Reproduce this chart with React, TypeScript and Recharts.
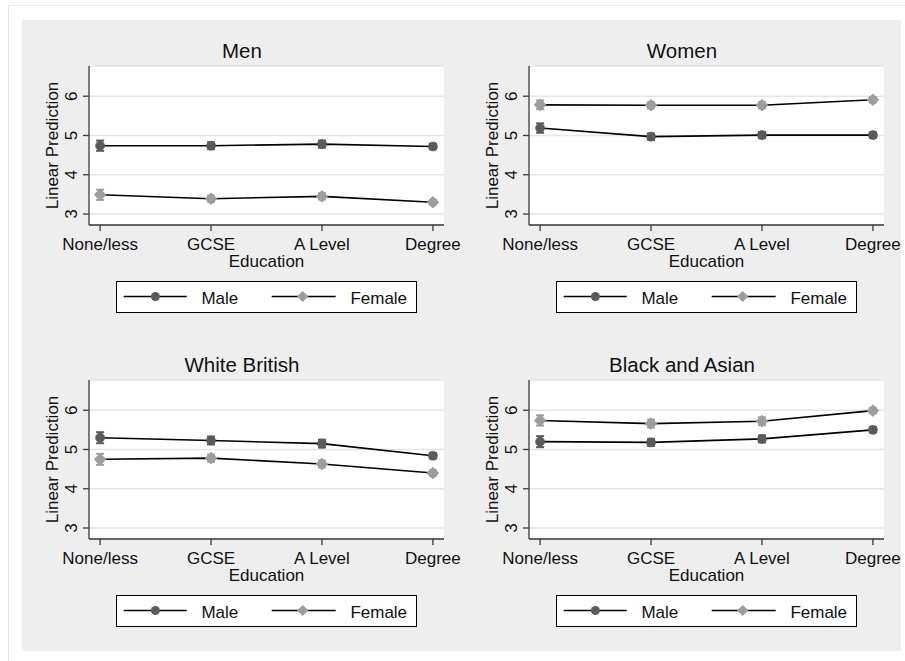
import React from 'react';
import { LineChart, Line, XAxis, YAxis, CartesianGrid, ErrorBar, Legend } from 'recharts';

// ---------- data ----------
const educationLabels = ['None/less', 'GCSE', 'A Level', 'Degree'];
const educationCodes = [1, 2, 3, 4];
const yTicks = [3, 4, 5, 6];
const seriesNames = ['Male', 'Female'];
const panelTitles = ['Men', 'Women', 'White British', 'Black and Asian'];

const menMale = [4.74, 4.74, 4.78, 4.72];
const menMaleCI = [0.13, 0.09, 0.09, 0.07];
const menFemale = [3.49, 3.39, 3.45, 3.30];
const menFemaleCI = [0.13, 0.08, 0.08, 0.06];

const womenMale = [5.19, 4.97, 5.01, 5.01];
const womenMaleCI = [0.12, 0.08, 0.08, 0.07];
const womenFemale = [5.78, 5.77, 5.77, 5.91];
const womenFemaleCI = [0.11, 0.08, 0.08, 0.07];

const whiteMale = [5.30, 5.23, 5.15, 4.84];
const whiteMaleCI = [0.14, 0.1, 0.1, 0.07];
const whiteFemale = [4.75, 4.78, 4.63, 4.40];
const whiteFemaleCI = [0.14, 0.09, 0.09, 0.07];

const baMale = [5.20, 5.18, 5.27, 5.50];
const baMaleCI = [0.14, 0.09, 0.09, 0.07];
const baFemale = [5.74, 5.66, 5.72, 5.99];
const baFemaleCI = [0.13, 0.1, 0.1, 0.07];

// ---------- style ----------
const FONT = '"Liberation Sans", Arial, Helvetica, sans-serif';
const MALE_COLOR = '#5a5a5a';
const FEMALE_COLOR = '#9d9d9d';
const AXIS_COLOR = '#3a3a3a';
const GRID_COLOR = '#e6e6e6';
const CHART_W = 440;
const CHART_H = 314;
const MARGIN = { top: 46, right: 18, bottom: 59, left: 0 };

function buildRows(male: number[], maleCI: number[], female: number[], femaleCI: number[]) {
  return educationCodes.map((x, i) => ({
    x,
    male: male[i],
    maleCI: maleCI[i],
    female: female[i],
    femaleCI: femaleCI[i],
  }));
}

const panels = [
  { title: panelTitles[0], rows: buildRows(menMale, menMaleCI, menFemale, menFemaleCI), left: 22, top: 20 },
  { title: panelTitles[1], rows: buildRows(womenMale, womenMaleCI, womenFemale, womenFemaleCI), left: 462, top: 20 },
  { title: panelTitles[2], rows: buildRows(whiteMale, whiteMaleCI, whiteFemale, whiteFemaleCI), left: 22, top: 334 },
  { title: panelTitles[3], rows: buildRows(baMale, baMaleCI, baFemale, baFemaleCI), left: 462, top: 334 },
];

const XTick = (props: any) => {
  const { x, y, payload } = props;
  const idx = educationCodes.indexOf(payload.value);
  return (
    <text x={x} y={y + 17} textAnchor="middle" fontFamily={FONT} fontSize={17} fill="#111">
      {educationLabels[idx]}
    </text>
  );
};

const YTick = (props: any) => {
  const { x, y, payload } = props;
  const bx = x - 4;
  return (
    <text x={bx} y={y} transform={`rotate(-90, ${bx}, ${y})`} textAnchor="middle" fontFamily={FONT} fontSize={17} fill="#111">
      {payload.value}
    </text>
  );
};

const YLabel = (props: any) => {
  const vb = props.viewBox || { x: 0, y: 46, width: 67, height: 159 };
  const cx = vb.x + 36;
  const cy = vb.y + vb.height / 2;
  return (
    <text x={cx} y={cy} transform={`rotate(-90, ${cx}, ${cy})`} textAnchor="middle" fontFamily={FONT} fontSize={17} fill="#111">
      Linear Prediction
    </text>
  );
};

const XLabel = (props: any) => {
  const vb = props.viewBox || { x: 67, y: 205, width: 355, height: 50 };
  return (
    <text x={vb.x + vb.width / 2} y={vb.y + 42} textAnchor="middle" fontFamily={FONT} fontSize={17} fill="#111">
      Education
    </text>
  );
};

const Diamond = (props: any) => {
  const { cx, cy, index } = props;
  if (cx == null || cy == null) return <g key={`d-${index}`} />;
  const s = 5.8;
  return (
    <polygon
      key={`d-${index}`}
      points={`${cx},${cy - s} ${cx + s},${cy} ${cx},${cy + s} ${cx - s},${cy}`}
      fill={FEMALE_COLOR}
      stroke={FEMALE_COLOR}
      strokeWidth={1}
    />
  );
};

const LegendBox = () => (
  <svg width={301} height={32} style={{ display: 'block' }}>
    <rect x={0.5} y={0.5} width={300} height={31} fill="#fff" stroke="#000" strokeWidth={1} />
    <line x1={7.7} x2={70.7} y1={15.5} y2={15.5} stroke="#000" strokeWidth={1.5} />
    <circle cx={39.4} cy={15.5} r={4.5} fill={MALE_COLOR} />
    <text x={85.4} y={22.5} fontFamily={FONT} fontSize={17} fill="#111">{seriesNames[0]}</text>
    <line x1={155.7} x2={219.7} y1={15.5} y2={15.5} stroke="#000" strokeWidth={1.5} />
    <polygon points="186.7,9.9 192.3,15.5 186.7,21.1 181.1,15.5" fill={FEMALE_COLOR} />
    <text x={234.4} y={22.5} fontFamily={FONT} fontSize={17} fill="#111">{seriesNames[1]}</text>
  </svg>
);

const Panel = ({ title, rows, left, top }: any) => (
  <div style={{ position: 'absolute', left, top, width: CHART_W, height: CHART_H }}>
    <div
      style={{
        position: 'absolute',
        left: 0,
        top: 19,
        width: CHART_W,
        textAlign: 'center',
        fontFamily: FONT,
        fontSize: 20.5,
        lineHeight: '24px',
        color: '#111',
        zIndex: 2,
      }}
    >
      {title}
    </div>
    <LineChart width={CHART_W} height={CHART_H} data={rows} margin={MARGIN} style={{ overflow: 'visible' }}>
      <CartesianGrid horizontal vertical={false} stroke={GRID_COLOR} strokeWidth={1.5} fill="#ffffff" />
      <XAxis
        dataKey="x"
        type="number"
        domain={[0.9, 4.1]}
        ticks={educationCodes}
        interval={0}
        allowDataOverflow
        height={50}
        tickSize={6}
        tickMargin={2}
        tick={<XTick />}
        axisLine={{ stroke: AXIS_COLOR, strokeWidth: 1.3 }}
        tickLine={{ stroke: AXIS_COLOR, strokeWidth: 1.3 }}
        label={<XLabel />}
      />
      <YAxis
        type="number"
        domain={[2.72, 6.77]}
        ticks={yTicks}
        interval={0}
        allowDataOverflow
        width={67}
        tickSize={6}
        tickMargin={2}
        tick={<YTick />}
        axisLine={{ stroke: AXIS_COLOR, strokeWidth: 1.3 }}
        tickLine={{ stroke: AXIS_COLOR, strokeWidth: 1.3 }}
        label={<YLabel />}
      />
      <Line
        type="linear"
        dataKey="male"
        stroke="#000"
        strokeWidth={1.6}
        dot={{ r: 4.6, fill: MALE_COLOR, stroke: MALE_COLOR, strokeWidth: 0.5 }}
        activeDot={false}
        isAnimationActive={false}
      >
        <ErrorBar dataKey="maleCI" width={4} stroke={MALE_COLOR} strokeWidth={2} direction="y" isAnimationActive={false} />
      </Line>
      <Line
        type="linear"
        dataKey="female"
        stroke="#000"
        strokeWidth={1.6}
        dot={<Diamond />}
        activeDot={false}
        isAnimationActive={false}
      >
        <ErrorBar dataKey="femaleCI" width={4} stroke={FEMALE_COLOR} strokeWidth={2} direction="y" isAnimationActive={false} />
      </Line>
      <Legend
        layout="horizontal"
        verticalAlign="middle"
        align="center"
        content={() => <LegendBox />}
        wrapperStyle={{ left: 94.3, top: 260.7, width: 301, height: 32 }}
      />
    </LineChart>
  </div>
);

export default function App() {
  return (
    <div style={{ position: 'absolute', left: 0, top: 0, width: 905, height: 661, background: '#fff', overflow: 'hidden' }}>
      <div
        style={{
          position: 'absolute',
          left: 8,
          top: 5,
          width: 905,
          height: 700,
          borderLeft: '1.5px solid #e4eaec',
          borderTop: '1.5px solid #e4eaec',
        }}
      />
      <div style={{ position: 'absolute', left: 22, top: 20, width: 879, height: 631, background: '#eeeeee' }} />
      {panels.map((p) => (
        <Panel key={p.title} {...p} />
      ))}
    </div>
  );
}
